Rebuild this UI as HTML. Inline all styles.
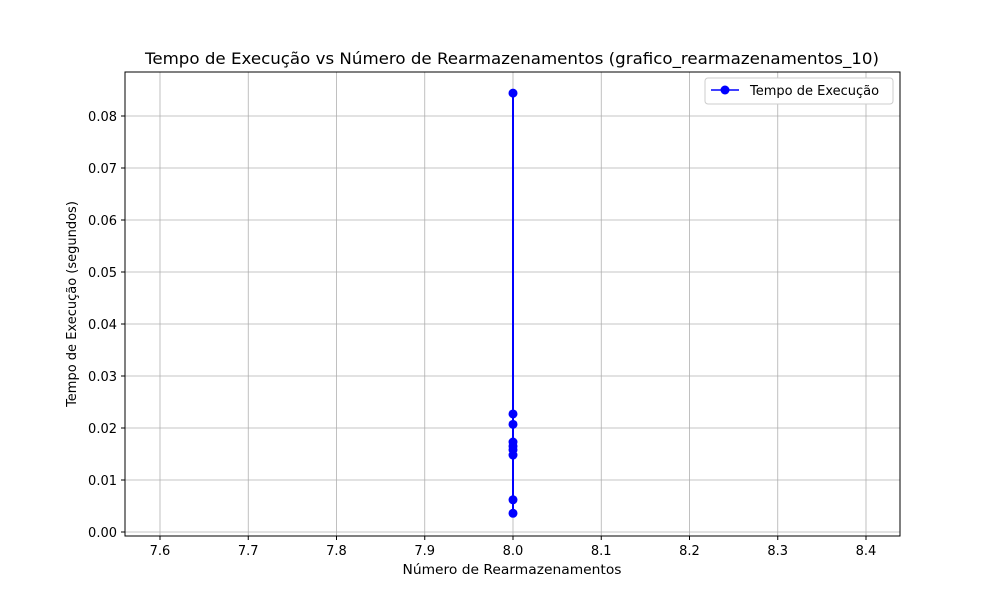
<!DOCTYPE html>
<html><head><meta charset="utf-8"><style>
body{margin:0;background:#fff;font-family:"Liberation Sans","DejaVu Sans",sans-serif;}
svg text{font-family:"DejaVu Sans","Liberation Sans",sans-serif;}
</style></head><body>
<svg width="1000" height="600" viewBox="0 0 1000 600">
<rect width="1000" height="600" fill="#fff"/>
<g id="grid"></g>
<g id="axes"></g>
<g id="series"></g>
<rect x="125" y="72" width="775" height="464" fill="none" stroke="#000" stroke-width="1"/>
<text x="512" y="64" text-anchor="middle" font-size="16" textLength="734" lengthAdjust="spacingAndGlyphs">Tempo de Execução vs Número de Rearmazenamentos (grafico_rearmazenamentos_10)</text>
<text x="512" y="574" text-anchor="middle" font-size="13" textLength="219" lengthAdjust="spacingAndGlyphs">Número de Rearmazenamentos</text>
<text transform="translate(76,304) rotate(-90)" text-anchor="middle" font-size="13">Tempo de Execução (segundos)</text>
<g>
<rect x="705" y="78" width="188" height="26" rx="3" fill="#fff" stroke="#ccc"/>
<line x1="711" y1="90" x2="739" y2="90" stroke="#0000ff" stroke-width="1.5"/>
<circle cx="725" cy="90" r="4.5" fill="#0000ff"/>
<text x="750" y="95" font-size="13">Tempo de Execução</text>
</g>
</svg>
<script>
const xTicks=[7.6,7.7,7.8,7.9,8.0,8.1,8.2,8.3,8.4];
const yTicks=[0,0.01,0.02,0.03,0.04,0.05,0.06,0.07,0.08];
const xValues=[8,8,8,8,8,8,8,8,8];
const yValues=[0.0844,0.0227,0.0207,0.0173,0.0165,0.0158,0.0148,0.0062,0.0036];
const NS='http://www.w3.org/2000/svg';
function xS(v){return 513+(v-8.0)*882.5;}
function yS(v){return 532-v*5200;}
function mk(t,a,p){const e=document.createElementNS(NS,t);for(const k in a)e.setAttribute(k,a[k]);p.appendChild(e);return e;}
const grid=document.getElementById('grid'),axes=document.getElementById('axes'),ser=document.getElementById('series');
xTicks.forEach(v=>{const x=xS(v);
const g=mk('line',{x1:x,x2:x,y1:72,y2:536,stroke:'#b0b0b0','stroke-width':0.8},grid);


const t=mk('line',{x1:x,x2:x,y1:536,y2:540,stroke:'#000'},axes);


const l=mk('text',{x:x,y:555,'text-anchor':'middle','font-size':13},axes);l.textContent=v.toFixed(1);

});
yTicks.forEach(v=>{const y=yS(v);
const g=mk('line',{x1:125,x2:900,y1:y,y2:y,stroke:'#b0b0b0','stroke-width':0.8},grid);


const t=mk('line',{x1:121,x2:125,y1:y,y2:y,stroke:'#000'},axes);


const l=mk('text',{x:117,y:y+5,'text-anchor':'end','font-size':13},axes);l.textContent=v.toFixed(2);

});
const pts=yValues.map((v,i)=>xS(xValues[i])+','+yS(v)).join(' ');
const pl=mk('polyline',{points:pts,fill:'none',stroke:'#0000ff','stroke-width':2},ser);


yValues.forEach((v,i)=>{const c=mk('circle',{cx:xS(xValues[i]),cy:yS(v),r:4.5,fill:'#0000ff'},ser);

});
</script>
</body></html>
